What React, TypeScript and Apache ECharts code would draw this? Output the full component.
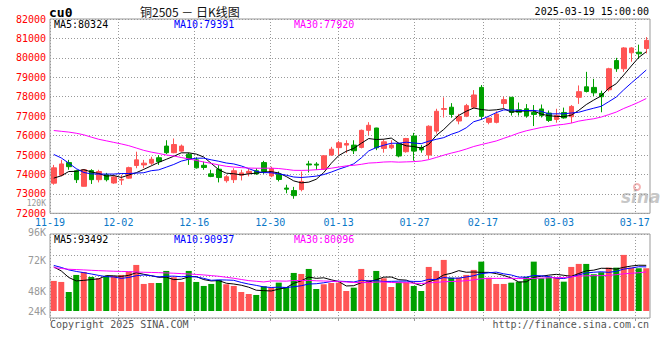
import React, { useEffect, useRef } from 'react';
import * as echarts from 'echarts';

// ---------- data ----------
const dates = [
  '11-19','11-20','11-21','11-22','11-25','11-26','11-27','11-28','11-29',
  '12-02','12-03','12-04','12-05','12-06','12-09','12-10','12-11','12-12','12-13',
  '12-16','12-17','12-18','12-19','12-20','12-23','12-24','12-25','12-26','12-27','12-30','12-31',
  '01-02','01-03','01-06','01-07','01-08','01-09','01-10','01-13','01-14','01-15','01-16','01-17',
  '01-20','01-21','01-22','01-23','01-24','01-27',
  '02-05','02-06','02-07','02-10','02-11','02-12','02-13','02-14','02-17','02-18','02-19','02-20','02-21',
  '02-24','02-25','02-26','02-27','02-28',
  '03-03','03-04','03-05','03-06','03-07','03-10','03-11','03-12','03-13','03-14','03-17','03-18','03-19',
];
const tickDates = ['11-19','12-02','12-16','12-30','01-13','01-27','02-17','03-03','03-17'];

const opens = [
  73550,73960,74610,74190,73390,74200,73730,73980,73560,73710,
  73810,74460,74490,74580,74860,75460,75120,75200,75040,74750,
  74470,74030,74270,73680,73730,73960,74060,74190,74610,73920,
  74010,73300,73170,73220,74540,74530,74270,75000,75380,75510,
  75510,75390,76270,76390,75340,75370,75590,75170,75980,75390,
  75000,76230,77350,77460,76750,77000,77460,78480,76680,76680,
  77650,77970,77330,77380,77190,77370,77160,76830,77190,76970,
  77970,78510,78480,78170,78360,79860,79440,80260,80290,80480,
];
const closes = [
  74340,74540,74400,73730,74240,73730,74150,73730,73870,73750,
  74350,74750,74580,74780,74660,75120,75540,75460,74780,74340,
  74360,73900,73840,73880,74190,74080,74160,74030,74150,74300,
  73740,73240,72910,73640,74490,74480,74960,75300,75630,75590,
  75220,76270,76530,75370,75680,75510,74950,75850,75200,75260,
  76480,77250,77390,77090,76990,77540,78090,76990,76900,77110,
  77850,77190,77200,77010,77090,77030,76780,77040,76910,77500,
  78260,78270,78200,78000,79440,79440,80510,80510,80210,80900,
];
const highs = [
  74490,74750,74750,74240,74260,74270,74240,74080,73930,73980,
  74400,75170,74750,74910,75000,75760,75850,75540,75120,74880,
  74660,74240,74480,73980,74320,74240,74290,74320,74700,74400,
  74150,73470,73360,74150,74700,74630,75000,75420,75730,75760,
  75760,76310,76690,76400,75810,75760,75630,75880,76140,75510,
  76530,77380,77970,77670,77120,77630,78340,78600,76920,77250,
  78000,77980,77700,77620,77570,77600,77290,77380,77440,77570,
  78580,79280,78920,78310,79490,80000,80550,80550,80680,81070,
];
const lows = [
  73470,73900,74240,73560,73380,73510,73590,73640,73520,73460,
  73780,74320,74320,74490,74490,75050,75090,75170,74490,74300,
  74240,73860,73590,73580,73560,73690,73900,73980,74030,73860,
  73640,73030,72750,73130,74100,74240,74230,74960,75000,75100,
  75050,75340,76020,75250,75120,75300,74880,75120,74710,75120,
  74780,76100,76930,76920,76580,76950,77380,76820,76580,76630,
  77420,77030,77030,76920,76490,76930,76700,76660,76870,76640,
  77630,78220,78040,77200,78270,79280,79280,79800,79950,80230,
];
const volumes = [
  61700,59600,39000,74000,80100,69900,67200,71900,71900,74000,
  80800,94500,55500,57500,57500,82200,69300,59600,82200,59600,
  51400,55500,63700,54900,51400,39000,34900,32900,50800,47900,
  58200,49300,78100,76000,86300,45200,54900,57500,58200,41100,
  47900,86300,63700,82200,67200,49300,59000,59000,51400,41100,
  90400,82200,104800,68400,68400,74000,84300,101300,68400,55500,
  55500,58200,60200,69900,101300,67200,69300,68400,60200,90400,
  96600,96600,75400,79500,89000,89000,115100,89000,87700,87700,
];

// moving-average values before a full window is available
const ma5Lead = [73810, 73930, 74150, 74160];
const ma10Lead = [75030, 74850, 74580, 74300, 74100, 74030, 74020, 74020, 74020];
const ma30Lead = [
  76260,76220,76180,76120,76040,75920,75810,75730,75650,75570,
  75480,75360,75240,75150,75080,75000,74950,74870,74800,74720,
  74640,74570,74490,74420,74380,74350,74330,74320,74320,
];
const vma5Lead = [90400, 82200, 68800, 61700];
const vma10Lead = [93500, 89400, 84300, 81200, 78700, 76000, 73000, 70500, 69900];
const vma30Lead = [
  89000,87300,85700,85000,84300,83500,82800,82200,81600,81200,
  80800,80100,79500,79100,78700,78100,77500,76700,76000,75000,
  74000,72600,71300,69200,67200,64700,62300,61000,59600,
];

const priceMaLabels = ['MA5:80324', 'MA10:79391', 'MA30:77920'];
const volMaLabels = ['MA5:93492', 'MA10:90937', 'MA30:80096'];
const volAxisLabels = ['120K', '96K', '72K', '48K', '24K'];

const RED = '#ff5454';
const GREEN = '#00a000';
const MA_COLORS = ['#000000', '#0000ff', '#ff00ff'];
const MONO = '"DejaVu Sans Mono", monospace';

function movingAverage(values: number[], n: number, lead: number[]) {
  return values.map((_, i) => {
    if (i < n - 1) return lead[i];
    let s = 0;
    for (let k = i - n + 1; k <= i; k++) s += values[k];
    return Math.round(s / n);
  });
}

export default function App() {
  const ref = useRef<HTMLDivElement>(null);

  useEffect(() => {
    document.body.style.margin = '0';
    const chart = echarts.init(ref.current!, undefined, { renderer: 'svg' });

    const tickIdx = tickDates.map((d) => dates.indexOf(d));
    const showTick = (i: number) => tickIdx.indexOf(i) >= 0;
    const dotted = { color: '#999', type: [1, 2] as any, width: 1 };

    const candleData = opens.map((o, i) => [o, closes[i], lows[i], highs[i]]);
    const volData = volumes.map((v, i) => ({
      value: v,
      itemStyle: { color: closes[i] >= opens[i] ? RED : GREEN },
    }));

    const pMa = [
      movingAverage(closes, 5, ma5Lead),
      movingAverage(closes, 10, ma10Lead),
      movingAverage(closes, 30, ma30Lead),
    ];
    const vMa = [
      movingAverage(volumes, 5, vma5Lead),
      movingAverage(volumes, 10, vma10Lead),
      movingAverage(volumes, 30, vma30Lead),
    ];

    const legendX = [54, 174, 294];
    const volLabelY = [203.8, 232, 260, 291, 311];
    const volLabelSize = [8, 10, 10, 10, 10];

    const graphic: any[] = [
      { type: 'text', x: 49, y: 12, style: { text: 'cu0', fill: '#000', font: `bold 13px ${MONO}`, verticalAlign: 'middle' } },
      { type: 'text', x: 140, y: 11, style: { text: '铜2505 － 日K线图', fill: '#111', font: '12px "Noto Sans CJK SC"', verticalAlign: 'middle' } },
      { type: 'text', x: 649, y: 11.5, style: { text: '2025-03-19 15:00:00', fill: '#000', font: `10px ${MONO}`, align: 'right', verticalAlign: 'middle' } },
      { type: 'text', x: 50, y: 324, style: { text: 'Copyright 2025 SINA.COM', fill: '#555', font: `10px ${MONO}`, verticalAlign: 'middle' } },
      { type: 'text', x: 649, y: 324, style: { text: 'http://finance.sina.com.cn', fill: '#555', font: `10px ${MONO}`, align: 'right', verticalAlign: 'middle' } },
      { type: 'text', x: 621, y: 197, style: { text: 'sina', fill: 'rgba(150,150,150,0.55)', font: 'italic bold 17px "DejaVu Sans"', verticalAlign: 'middle' } },
      { type: 'ring', shape: { cx: 637, cy: 187, r: 4, r0: 2 }, style: { fill: 'rgba(235,120,120,0.55)' } },
    ];
    priceMaLabels.forEach((t, k) => {
      graphic.push({ type: 'text', x: legendX[k], y: 24, style: { text: t, fill: MA_COLORS[k], font: `10px ${MONO}`, verticalAlign: 'middle' } });
    });
    volMaLabels.forEach((t, k) => {
      graphic.push({ type: 'text', x: legendX[k], y: 239, style: { text: t, fill: MA_COLORS[k], font: `10px ${MONO}`, verticalAlign: 'middle' } });
    });
    volAxisLabels.forEach((t, k) => {
      graphic.push({ type: 'text', x: 46, y: volLabelY[k], style: { text: t, fill: '#999', font: `${volLabelSize[k]}px ${MONO}`, align: 'right', verticalAlign: 'middle' } });
    });

    const option: any = {
      animation: false,
      grid: [
        { left: 50, top: 19, width: 600, height: 194.3, show: true, borderColor: '#999', borderWidth: 1 },
        { left: 50, top: 234, width: 600, height: 84, show: true, borderColor: '#999', borderWidth: 1 },
        { left: 50, top: 234, width: 600, height: 77, show: false },
      ],
      xAxis: [
        { type: 'category', gridIndex: 0, data: dates, boundaryGap: true, show: false, position: 'top' },
        {
          type: 'category', gridIndex: 0, data: dates, boundaryGap: false, position: 'bottom',
          axisLine: { show: false }, axisTick: { show: false },
          axisLabel: { interval: showTick, color: '#0a78c8', fontFamily: MONO, fontSize: 10, margin: 4 },
          splitLine: { show: true, interval: showTick, lineStyle: dotted },
        },
        {
          type: 'category', gridIndex: 1, data: dates, boundaryGap: false, position: 'bottom',
          axisLine: { show: false }, axisLabel: { show: false },
          axisTick: { show: true, interval: showTick, length: 3, lineStyle: { color: '#999' } },
          splitLine: { show: true, interval: showTick, lineStyle: dotted },
        },
        { type: 'category', gridIndex: 2, data: dates, boundaryGap: true, show: false },
      ],
      yAxis: [
        {
          type: 'value', gridIndex: 0, min: 72000, max: 82000, interval: 1000, position: 'left',
          axisLine: { show: false }, axisTick: { show: false },
          axisLabel: {
            color: '#f00', fontFamily: MONO, fontSize: 10, margin: 4, padding: [0, 0, 6, 0],
            formatter: (v: number) => String(v),
          },
          splitLine: { show: true, lineStyle: dotted },
        },
        {
          type: 'value', gridIndex: 1, min: 0, max: 4, interval: 1, position: 'left',
          axisLine: { show: false }, axisTick: { show: false }, axisLabel: { show: false },
          splitLine: { show: true, lineStyle: dotted },
        },
        {
          type: 'value', gridIndex: 2, min: 0, max: 158000, show: false,
          splitLine: { show: false },
        },
      ],
      series: [
        {
          type: 'candlestick', xAxisIndex: 0, yAxisIndex: 0, data: candleData, barWidth: 5,
          itemStyle: { color: RED, color0: GREEN, borderColor: RED, borderColor0: GREEN, borderWidth: 1 },
        },
        ...pMa.map((d, k) => ({
          type: 'line', xAxisIndex: 0, yAxisIndex: 0, data: d, showSymbol: false, symbol: 'none',
          lineStyle: { color: MA_COLORS[k], width: 1 }, z: 3,
        })),
        { type: 'bar', xAxisIndex: 3, yAxisIndex: 2, data: volData, barWidth: 6 },
        ...vMa.map((d, k) => ({
          type: 'line', xAxisIndex: 3, yAxisIndex: 2, data: d, showSymbol: false, symbol: 'none',
          lineStyle: { color: MA_COLORS[k], width: 1 }, z: 3,
        })),
      ],
      graphic,
    };

    chart.setOption(option);
    return () => chart.dispose();
  }, []);

  return <div ref={ref} style={{ position: 'absolute', left: 0, top: 0, width: 660, height: 360 }} />;
}
